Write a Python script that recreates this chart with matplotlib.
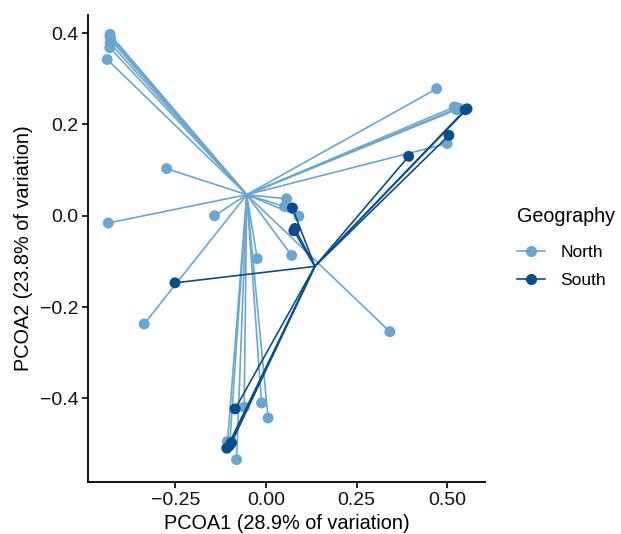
import matplotlib
matplotlib.use("Agg")
import matplotlib.pyplot as plt
from matplotlib.lines import Line2D

plt.rcParams['font.family'] = ['Liberation Sans', 'DejaVu Sans']

# PCoA scores per sample
north_x = [-0.430, -0.430, -0.428, -0.430, -0.431, -0.438,
           -0.274, -0.142, -0.435, -0.336, -0.024,
           -0.060, -0.012, 0.006, -0.081, -0.106, -0.100,
           0.471, 0.520, 0.530, 0.526, 0.500,
           0.057, 0.052, 0.091, 0.071, 0.342]
north_y = [0.397, 0.392, 0.385, 0.378, 0.368, 0.342,
           0.103, 0.000, -0.016, -0.237, -0.094,
           -0.419, -0.410, -0.443, -0.534, -0.494, -0.500,
           0.278, 0.238, 0.236, 0.232, 0.158,
           0.037, 0.020, -0.001, -0.087, -0.254]
south_x = [-0.251, -0.085, -0.108, -0.095, -0.100,
           0.555, 0.550, 0.505, 0.394,
           0.073, 0.080, 0.077]
south_y = [-0.147, -0.423, -0.509, -0.497, -0.503,
           0.234, 0.232, 0.176, 0.130,
           0.017, -0.028, -0.033]

# group centroids
north_centroid = (-0.053, 0.046)
south_centroid = (0.135, -0.111)

light = '#6BA6D0'
dark = '#0B4C8C'

fig = plt.figure(figsize=(6.21, 5.34), dpi=100)
ax = fig.add_axes([0.1417, 0.0974, 0.639, 0.875])

groups = [
    (north_x, north_y, north_centroid, light, 'North'),
    (south_x, south_y, south_centroid, dark, 'South'),
]
z = 2
for xs, ys, (cx, cy), col, name in groups:
    for x, y in zip(xs, ys):
        ax.plot([cx, x], [cy, y], color=col, lw=1.2, zorder=z)
    ax.scatter(xs, ys, s=62, color=col, edgecolors='none', zorder=z + 1)
    z += 2

ax.set_xlim(-0.491, 0.604)
ax.set_ylim(-0.583, 0.44)
ax.set_xticks([-0.25, 0.0, 0.25, 0.5])
ax.set_xticklabels(['\u22120.25', '0.00', '0.25', '0.50'])
ax.set_yticks([-0.4, -0.2, 0.0, 0.2, 0.4])
ax.set_yticklabels(['\u22120.4', '\u22120.2', '0.0', '0.2', '0.4'])

for side in ['top', 'right']:
    ax.spines[side].set_visible(False)
for side in ['left', 'bottom']:
    ax.spines[side].set_linewidth(1.3)
ax.tick_params(axis='both', labelsize=14, width=1.2, length=4, pad=3,
               color='black', labelcolor='#111111')

ax.set_xlabel('PCOA1 (28.9% of variation)', fontsize=14.3, labelpad=4)
ax.set_ylabel('PCOA2 (23.8% of variation)', fontsize=14.3, labelpad=5)

handles = [Line2D([0], [0], color=light, lw=1.2, marker='o', markersize=7),
           Line2D([0], [0], color=dark, lw=1.2, marker='o', markersize=7)]
leg = fig.legend(handles, ['North', 'South'], title='Geography',
                 loc='center left', bbox_to_anchor=(0.807, 0.536),
                 frameon=False, fontsize=12.5, title_fontsize=14.2,
                 handlelength=1.6, handletextpad=0.9, labelspacing=0.75,
                 alignment='left')
# a bit more room between the title and the keys
leg._legend_box.sep += 4

fig.savefig('out.png', dpi=100)
